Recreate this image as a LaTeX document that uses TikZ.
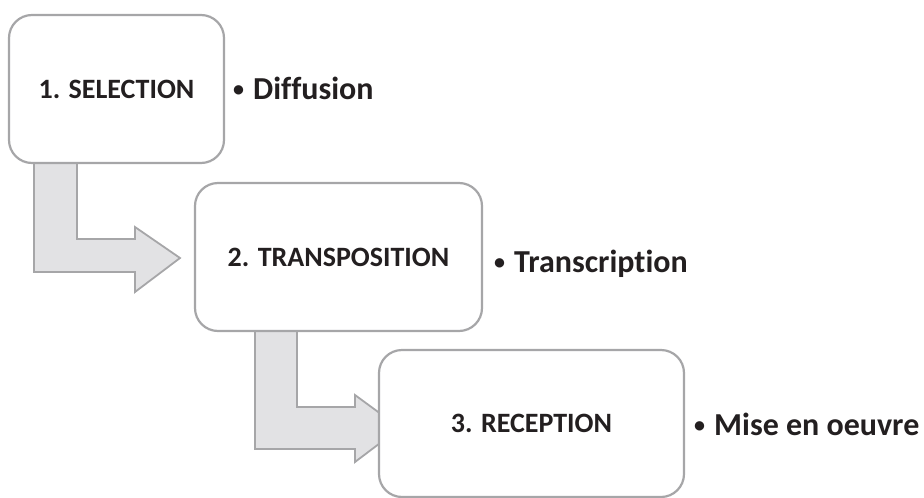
\documentclass[tikz,border=0pt]{standalone}
\usepackage{fontspec}
\setmainfont{Carlito}[Ligatures=NoCommon]
\usepackage{xcolor}

\definecolor{edgegray}{RGB}{166,166,168}
\definecolor{arrowfill}{RGB}{226,226,228}
\definecolor{inkblack}{RGB}{35,31,32}

\newcommand{\smallbullet}{\raisebox{2.5pt}{\fontsize{22}{22}\selectfont •}\hspace{9pt}}

\begin{document}
\begin{tikzpicture}[x=1pt,y=1pt,yscale=-1,
    stagebox/.style={draw=edgegray, line width=2.2pt, fill=white, rounded corners=23pt,
        inner sep=0pt, align=center, text=inkblack, font=\fontsize{28}{30}\selectfont\bfseries},
    bullet/.style={anchor=base west, inner sep=0pt, text=inkblack, font=\fontsize{32}{34}\selectfont\bfseries},
    bendarrow/.style={draw=edgegray, line width=1.8pt, fill=arrowfill, line join=miter}]

    \useasboundingbox (0,0) rectangle (924,498);

    % bent arrows, drawn first so the boxes cover their ends
    \draw[bendarrow] (34,163) -- (77,163) -- (77,239) -- (135,239) -- (135,227) -- (180,258)
        -- (135,292) -- (135,272) -- (34,272) -- cycle;
    \draw[bendarrow] (255,331) -- (297,331) -- (297,407) -- (355,407) -- (355,395) -- (400,428)
        -- (355,462) -- (355,449) -- (255,449) -- cycle;

    \draw (116.5,89) node [stagebox, minimum width=215, minimum height=148] (sel) {1. SELECTION};
    \draw (338.5,257) node [stagebox, minimum width=287, minimum height=148] (trans) {2. TRANSPOSITION};
    \draw (531.5,423.5) node [stagebox, minimum width=305, minimum height=147] (recep) {3. RECEPTION};

    \draw (233,99) node [bullet] (diff) {\smallbullet Diffusion};
    \draw (494,272) node [bullet] (transc) {\smallbullet Transcription};
    \draw (694,435) node [bullet] (mise) {\smallbullet Mise en oeuvre};

\end{tikzpicture}
\end{document}
